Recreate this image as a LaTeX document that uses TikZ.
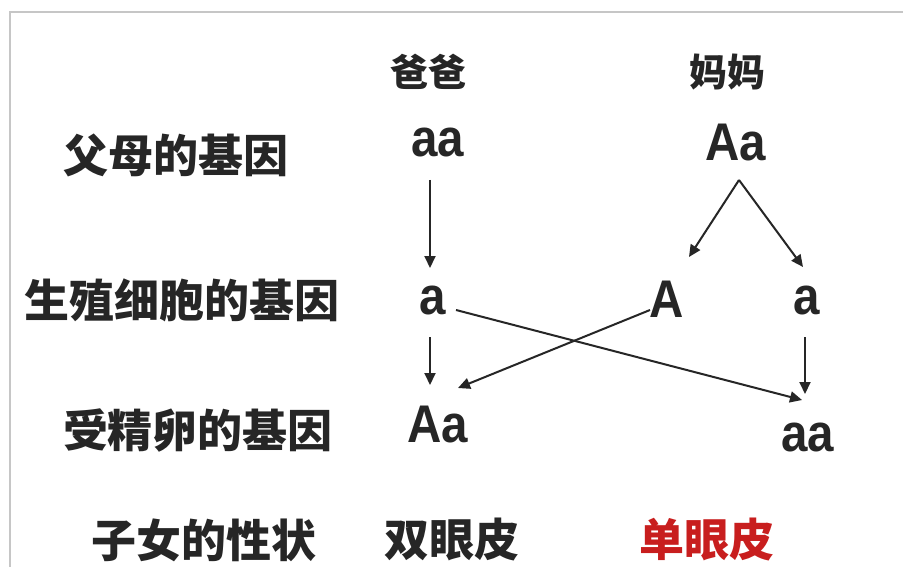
\documentclass[tikz,border=0pt]{standalone}
\usepackage{fontspec}
\newfontfamily\cjk{Noto Sans CJK SC}
\newfontfamily\genefont{Liberation Sans}
\usetikzlibrary{arrows.meta,calc}
\newcommand{\gn}[1]{\scalebox{0.95}[1.06]{#1}}
\definecolor{redtxt}{RGB}{200,30,30}
\tikzset{
  lbl/.style={font=\cjk\bfseries\fontsize{45}{45}\selectfont, inner sep=0pt, text=black!85},
  parent/.style={font=\cjk\bfseries\fontsize{38}{38}\selectfont, inner sep=0pt, text=black!85},
  gene/.style={font=\genefont\bfseries\fontsize{50}{50}\selectfont, inner sep=0pt, text=black!85},
  arr/.style={line width=2pt, black!85, -{Triangle[length=12pt,width=11pt]}}
}
\begin{document}
\begin{tikzpicture}[x=1pt,y=-1pt]
\useasboundingbox (0,0) rectangle (903,567);
\fill[white] (0,0) rectangle (903,567);
\draw[gray!45, line width=1.2pt] (10,567) -- (10,12) -- (903,12);

% column headers
\node[parent] (dadh) at (428,72) {爸爸};
\node[parent] (momh) at (727,72) {妈妈};

% row labels
\node[lbl] (r1) at (176,155) {父母的基因};
\node[lbl] (r2) at (182,300) {生殖细胞的基因};
\node[lbl] (r3) at (198,430) {受精卵的基因};
\node[lbl] (r4) at (204,540) {子女的性状};

% genes
\node[gene] (dad) at (438,143) {\gn{aa}};
\node[gene] (mom) at (736,143) {\gn{Aa}};
\node[gene] (a1) at (433,300) {\gn{a}};
\node[gene] (A) at (667,299) {\gn{A}};
\node[gene] (a2) at (807,300) {\gn{a}};
\node[gene] (off1) at (438,425) {\gn{Aa}};
\node[gene] (off2) at (808,437) {\gn{aa}};

% traits
\node[lbl] (t1) at (452,540) {双眼皮};
\node[lbl, text=redtxt] (t2) at (707,540) {单眼皮};

% arrows
\draw[arr] ($(dad)+(-8,37)$) -- ($(a1)+(-3,-32)$);
\coordinate (apex) at ($(mom)+(3,37)$);
\draw[arr] (apex) -- ($(A)+(22,-42)$);
\draw[arr] (apex) -- ($(a2)+(-4,-33)$);
\draw[arr] ($(a1)+(-3,37)$) -- ($(off1)+(-8,-40)$);
\draw[arr] ($(a1)+(23,10)$) -- ($(off2)+(-6,-37)$);
\draw[arr] ($(A)+(-17,11)$) -- ($(off1)+(20,-37)$);
\draw[arr] ($(a2)+(-2,37)$) -- ($(off2)+(-3,-43)$);
\end{tikzpicture}
\end{document}
